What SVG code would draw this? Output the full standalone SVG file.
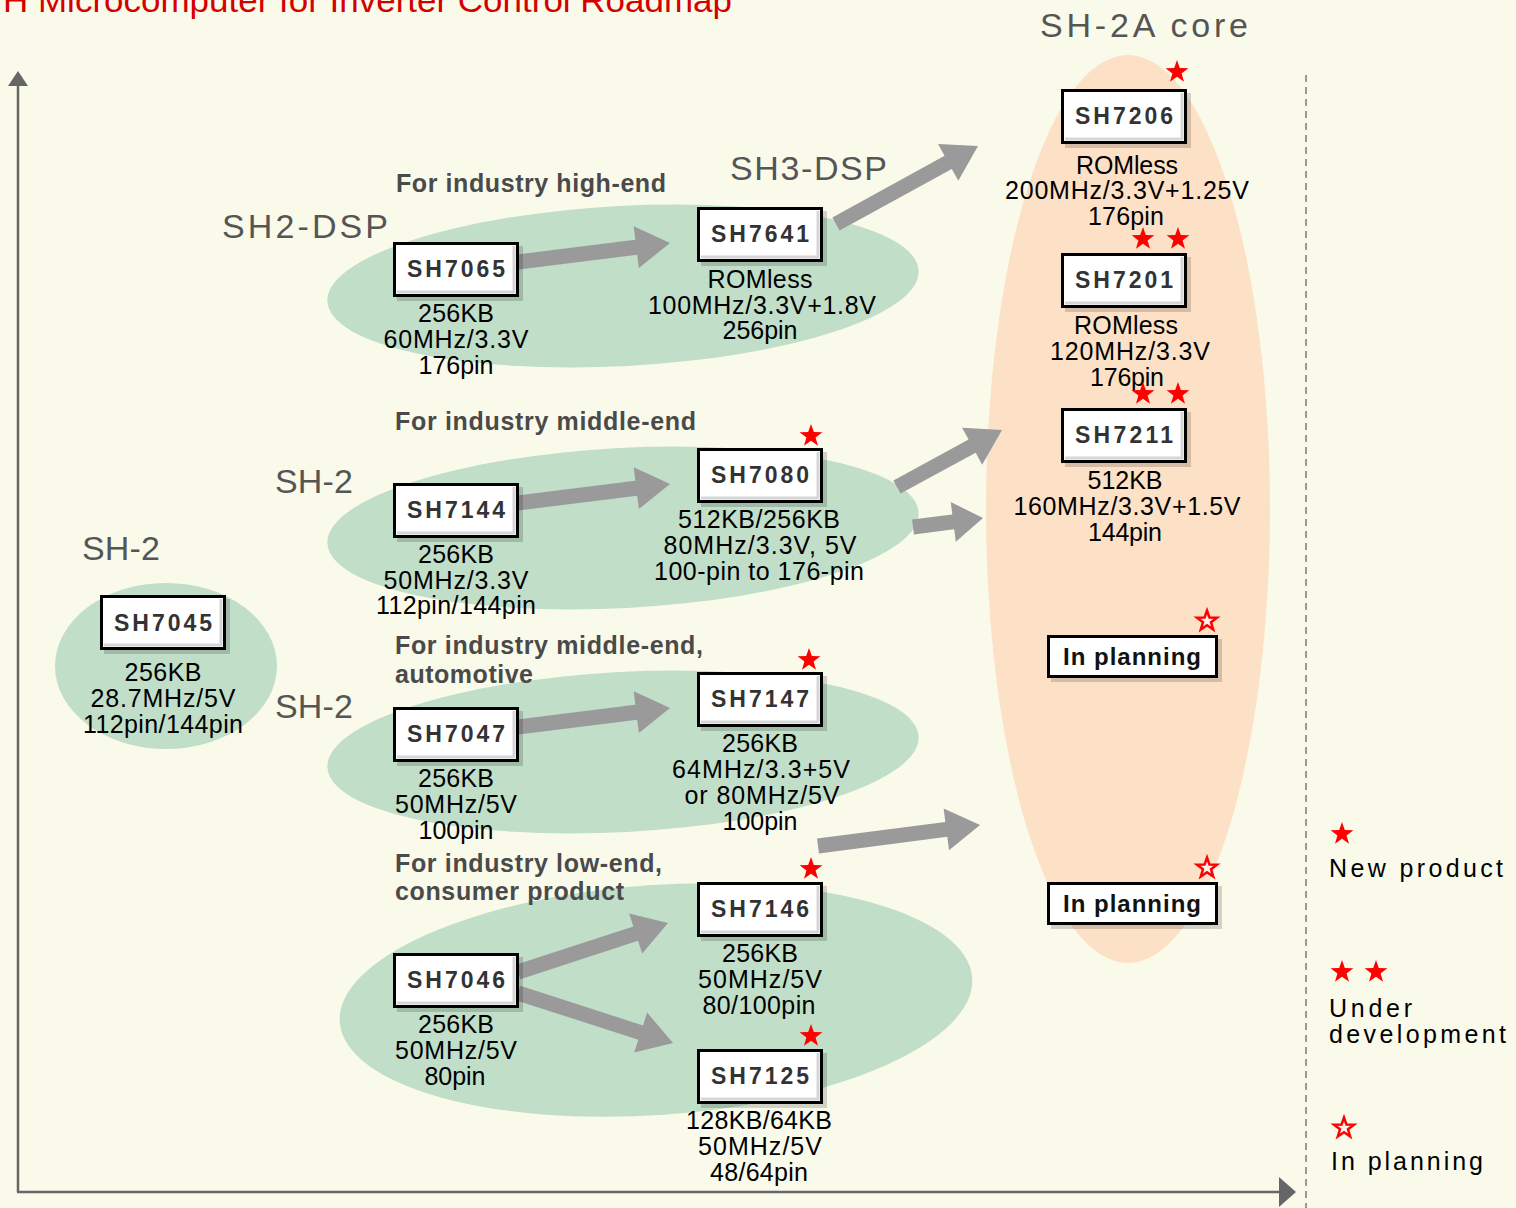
<svg xmlns="http://www.w3.org/2000/svg" width="1516" height="1208" viewBox="0 0 1516 1208">
<style>
.grn{fill:#C0DEC8}
.peach{fill:#FDE1C6}
.axis{stroke:#666;stroke-width:2.5;fill:none}
.axh{fill:#666}
.arr{fill:#9A9A9A}
.box{fill:#fff;stroke:#000;stroke-width:3}
.shd{fill:#000;opacity:.16}
.inn{fill:none;stroke:#d6d6d6;stroke-width:3}
text{font-family:"Liberation Sans",Arial,sans-serif}
.lbl{font-weight:bold;font-size:23px;fill:#333;text-anchor:middle}
.pl{font-weight:bold;font-size:24px;fill:#111;text-anchor:middle}
.dat{font-size:25px;fill:#000;text-anchor:middle}
.ser{font-size:34px;fill:#555}
.cat{font-weight:bold;font-size:25px;fill:#4a4a4a}
.leg{font-size:25px;fill:#000}
.title{font-size:34px;fill:#D40000}
.star{fill:#FF0000}
.hstar{fill:#FFF0F0;stroke:#FF0000;stroke-width:2.5}
</style>
<defs>
<polygon id="st" points="0,-12 2.82,-3.88 11.41,-3.71 4.57,1.48 7.05,9.71 0,4.8 -7.05,9.71 -4.57,1.48 -11.41,-3.71 -2.82,-3.88"/>
<polygon id="hs" points="0,-10.5 2.47,-3.4 10,-3.25 4,1.3 6.17,8.5 0,4.2 -6.17,8.5 -4,1.3 -10,-3.25 -2.47,-3.4"/>
</defs>
<rect width="1516" height="1208" fill="#FAFAEB"/>
<text class="title" x="3" y="12" textLength="729" lengthAdjust="spacingAndGlyphs">H Microcomputer for Inverter Control Roadmap</text>

<g id="backgrounds">
<ellipse class="peach" cx="1128" cy="509" rx="142" ry="454"/>
<ellipse class="grn" cx="623" cy="286" rx="296" ry="80" transform="rotate(-3 623 286)"/>
<ellipse class="grn" cx="623" cy="528" rx="296" ry="80" transform="rotate(-3 623 528)"/>
<ellipse class="grn" cx="623" cy="752" rx="296" ry="80" transform="rotate(-3 623 752)"/>
<ellipse class="grn" cx="656" cy="1000" rx="317" ry="115" transform="rotate(-4 656 1000)"/>
<ellipse class="grn" cx="166" cy="666" rx="111" ry="83"/>
</g>

<g id="axes">
<line class="axis" x1="18" y1="84" x2="18" y2="1192"/>
<polygon class="axh" points="8,86 28,86 18,71"/>
<line class="axis" x1="17" y1="1192" x2="1282" y2="1192"/>
<polygon class="axh" points="1279,1177 1296,1192 1279,1207"/>
<line x1="1306" y1="75" x2="1306" y2="1208" stroke="#999" stroke-width="2" stroke-dasharray="7 5"/>
</g>

<g id="series-labels">
<text class="ser" x="1040" y="37" textLength="208" lengthAdjust="spacing">SH-2A core</text>
<text class="ser" x="730" y="180" textLength="157" lengthAdjust="spacing">SH3-DSP</text>
<text class="ser" x="222" y="238" textLength="166" lengthAdjust="spacing">SH2-DSP</text>
<text class="ser" x="275" y="493" textLength="78" lengthAdjust="spacing">SH-2</text>
<text class="ser" x="82" y="560" textLength="78" lengthAdjust="spacing">SH-2</text>
<text class="ser" x="275" y="718" textLength="78" lengthAdjust="spacing">SH-2</text>
<text class="cat" x="396" y="192" textLength="270" lengthAdjust="spacing">For industry high-end</text>
<text class="cat" x="395" y="430" textLength="301" lengthAdjust="spacing">For industry middle-end</text>
<text class="cat" x="395" y="654" textLength="308" lengthAdjust="spacing">For industry middle-end,</text>
<text class="cat" x="395" y="683" textLength="138" lengthAdjust="spacing">automotive</text>
<text class="cat" x="395" y="872" textLength="267" lengthAdjust="spacing">For industry low-end,</text>
<text class="cat" x="395" y="900" textLength="229" lengthAdjust="spacing">consumer product</text>
</g>

<g id="connectors">
<polygon class="arr" transform="translate(518,262) rotate(-7.13)" points="0,-7.5 119.2,-7.5 119.2,-21 153.2,0 119.2,21 119.2,7.5 0,7.5"/>
<polygon class="arr" transform="translate(836,224) rotate(-28.78)" points="0,-7.5 128,-7.5 128,-21 162,0 128,21 128,7.5 0,7.5"/>
<polygon class="arr" transform="translate(518,503) rotate(-7.13)" points="0,-7.5 119.2,-7.5 119.2,-21 153.2,0 119.2,21 119.2,7.5 0,7.5"/>
<polygon class="arr" transform="translate(897,487) rotate(-28.5)" points="0,-7.5 85.5,-7.5 85.5,-21 119.5,0 85.5,21 85.5,7.5 0,7.5"/>
<polygon class="arr" transform="translate(913,527) rotate(-7.3)" points="0,-7.5 40.6,-7.5 40.6,-20 70.6,0 40.6,20 40.6,7.5 0,7.5"/>
<polygon class="arr" transform="translate(518,727) rotate(-7.13)" points="0,-7.5 119.2,-7.5 119.2,-21 153.2,0 119.2,21 119.2,7.5 0,7.5"/>
<polygon class="arr" transform="translate(818,846) rotate(-7.39)" points="0,-7.5 129.4,-7.5 129.4,-21 163.4,0 129.4,21 129.4,7.5 0,7.5"/>
<polygon class="arr" transform="translate(518,972) rotate(-18.09)" points="0,-7.5 123.8,-7.5 123.8,-21 157.8,0 123.8,21 123.8,7.5 0,7.5"/>
<polygon class="arr" transform="translate(518,993) rotate(17.88)" points="0,-7.5 128.9,-7.5 128.9,-21 162.9,0 128.9,21 128.9,7.5 0,7.5"/>
</g>

<g id="SH7045">
<rect class="shd" x="104" y="599" width="126" height="55"/>
<rect class="box" x="101.5" y="596.5" width="123" height="52"/>
<polyline class="inn" points="104,645 221,645 221,599"/>
<text class="lbl" x="163" y="631" textLength="98" lengthAdjust="spacing">SH7045</text>
<text class="dat" x="163" y="681" textLength="77" lengthAdjust="spacing">256KB</text>
<text class="dat" x="163" y="707" textLength="145" lengthAdjust="spacing">28.7MHz/5V</text>
<text class="dat" x="163" y="733" textLength="160" lengthAdjust="spacing">112pin/144pin</text>
</g>

<g id="SH7065">
<rect class="shd" x="397" y="246" width="126" height="55"/>
<rect class="box" x="394.5" y="243.5" width="123" height="52"/>
<polyline class="inn" points="397,292 514,292 514,246"/>
<text class="lbl" x="456" y="277" textLength="98" lengthAdjust="spacing">SH7065</text>
<text class="dat" x="456" y="322" textLength="76" lengthAdjust="spacing">256KB</text>
<text class="dat" x="456" y="348" textLength="145" lengthAdjust="spacing">60MHz/3.3V</text>
<text class="dat" x="456" y="374" textLength="75" lengthAdjust="spacing">176pin</text>
</g>

<g id="SH7641">
<rect class="shd" x="701" y="211" width="126" height="55"/>
<rect class="box" x="698.5" y="208.5" width="123" height="52"/>
<polyline class="inn" points="701,257 818,257 818,211"/>
<text class="lbl" x="760" y="242" textLength="98" lengthAdjust="spacing">SH7641</text>
<text class="dat" x="760" y="288" textLength="105" lengthAdjust="spacing">ROMless</text>
<text class="dat" x="762" y="314" textLength="228" lengthAdjust="spacing">100MHz/3.3V+1.8V</text>
<text class="dat" x="760" y="339" textLength="75" lengthAdjust="spacing">256pin</text>
</g>

<g id="SH7144">
<rect class="shd" x="397" y="487" width="126" height="55"/>
<rect class="box" x="394.5" y="484.5" width="123" height="52"/>
<polyline class="inn" points="397,533 514,533 514,487"/>
<text class="lbl" x="456" y="518" textLength="98" lengthAdjust="spacing">SH7144</text>
<text class="dat" x="456" y="563" textLength="76" lengthAdjust="spacing">256KB</text>
<text class="dat" x="456" y="589" textLength="145" lengthAdjust="spacing">50MHz/3.3V</text>
<text class="dat" x="456" y="614" textLength="160" lengthAdjust="spacing">112pin/144pin</text>
</g>

<g id="SH7080">
<rect class="shd" x="701" y="452" width="126" height="55"/>
<rect class="box" x="698.5" y="449.5" width="123" height="52"/>
<polyline class="inn" points="701,498 818,498 818,452"/>
<text class="lbl" x="760" y="483" textLength="98" lengthAdjust="spacing">SH7080</text>
<text class="dat" x="759" y="528" textLength="162" lengthAdjust="spacing">512KB/256KB</text>
<text class="dat" x="760" y="554" textLength="193" lengthAdjust="spacing">80MHz/3.3V, 5V</text>
<text class="dat" x="759" y="580" textLength="210" lengthAdjust="spacing">100-pin to 176-pin</text>
<use href="#st" class="star" x="811" y="436"/>
</g>

<g id="SH7047">
<rect class="shd" x="397" y="711" width="126" height="55"/>
<rect class="box" x="394.5" y="708.5" width="123" height="52"/>
<polyline class="inn" points="397,757 514,757 514,711"/>
<text class="lbl" x="456" y="742" textLength="98" lengthAdjust="spacing">SH7047</text>
<text class="dat" x="456" y="787" textLength="76" lengthAdjust="spacing">256KB</text>
<text class="dat" x="456" y="813" textLength="122" lengthAdjust="spacing">50MHz/5V</text>
<text class="dat" x="456" y="839" textLength="75" lengthAdjust="spacing">100pin</text>
</g>

<g id="SH7147">
<rect class="shd" x="701" y="676" width="126" height="55"/>
<rect class="box" x="698.5" y="673.5" width="123" height="52"/>
<polyline class="inn" points="701,722 818,722 818,676"/>
<text class="lbl" x="760" y="707" textLength="98" lengthAdjust="spacing">SH7147</text>
<text class="dat" x="760" y="752" textLength="76" lengthAdjust="spacing">256KB</text>
<text class="dat" x="761" y="778" textLength="178" lengthAdjust="spacing">64MHz/3.3+5V</text>
<text class="dat" x="762" y="804" textLength="155" lengthAdjust="spacing">or 80MHz/5V</text>
<text class="dat" x="760" y="830" textLength="75" lengthAdjust="spacing">100pin</text>
<use href="#st" class="star" x="809" y="660"/>
</g>

<g id="SH7046">
<rect class="shd" x="397" y="957" width="126" height="55"/>
<rect class="box" x="394.5" y="954.5" width="123" height="52"/>
<polyline class="inn" points="397,1003 514,1003 514,957"/>
<text class="lbl" x="456" y="988" textLength="98" lengthAdjust="spacing">SH7046</text>
<text class="dat" x="456" y="1033" textLength="76" lengthAdjust="spacing">256KB</text>
<text class="dat" x="456" y="1059" textLength="122" lengthAdjust="spacing">50MHz/5V</text>
<text class="dat" x="455" y="1085" textLength="61" lengthAdjust="spacing">80pin</text>
</g>

<g id="SH7146">
<rect class="shd" x="701" y="886" width="126" height="55"/>
<rect class="box" x="698.5" y="883.5" width="123" height="52"/>
<polyline class="inn" points="701,932 818,932 818,886"/>
<text class="lbl" x="760" y="917" textLength="98" lengthAdjust="spacing">SH7146</text>
<text class="dat" x="760" y="962" textLength="76" lengthAdjust="spacing">256KB</text>
<text class="dat" x="760" y="988" textLength="124" lengthAdjust="spacing">50MHz/5V</text>
<text class="dat" x="759" y="1014" textLength="113" lengthAdjust="spacing">80/100pin</text>
<use href="#st" class="star" x="811" y="869"/>
</g>

<g id="SH7125">
<rect class="shd" x="701" y="1053" width="126" height="55"/>
<rect class="box" x="698.5" y="1050.5" width="123" height="52"/>
<polyline class="inn" points="701,1099 818,1099 818,1053"/>
<text class="lbl" x="760" y="1084" textLength="98" lengthAdjust="spacing">SH7125</text>
<text class="dat" x="759" y="1129" textLength="146" lengthAdjust="spacing">128KB/64KB</text>
<text class="dat" x="760" y="1155" textLength="124" lengthAdjust="spacing">50MHz/5V</text>
<text class="dat" x="759" y="1181" textLength="98" lengthAdjust="spacing">48/64pin</text>
<use href="#st" class="star" x="811" y="1036"/>
</g>

<g id="SH7206">
<rect class="shd" x="1065" y="93" width="126" height="55"/>
<rect class="box" x="1062.5" y="90.5" width="123" height="52"/>
<polyline class="inn" points="1065,139 1182,139 1182,93"/>
<text class="lbl" x="1124" y="124" textLength="98" lengthAdjust="spacing">SH7206</text>
<text class="dat" x="1127" y="174" textLength="102" lengthAdjust="spacing">ROMless</text>
<text class="dat" x="1127" y="199" textLength="244" lengthAdjust="spacing">200MHz/3.3V+1.25V</text>
<text class="dat" x="1126" y="225" textLength="76" lengthAdjust="spacing">176pin</text>
<use href="#st" class="star" x="1177" y="72"/>
</g>

<g id="SH7201">
<rect class="shd" x="1065" y="257" width="126" height="55"/>
<rect class="box" x="1062.5" y="254.5" width="123" height="52"/>
<polyline class="inn" points="1065,303 1182,303 1182,257"/>
<text class="lbl" x="1124" y="288" textLength="98" lengthAdjust="spacing">SH7201</text>
<text class="dat" x="1126" y="334" textLength="104" lengthAdjust="spacing">ROMless</text>
<text class="dat" x="1130" y="360" textLength="160" lengthAdjust="spacing">120MHz/3.3V</text>
<text class="dat" x="1127" y="386" textLength="74" lengthAdjust="spacing">176pin</text>
<use href="#st" class="star" x="1143" y="239"/>
<use href="#st" class="star" x="1178" y="239"/>
</g>

<g id="SH7211">
<rect class="shd" x="1065" y="412" width="126" height="55"/>
<rect class="box" x="1062.5" y="409.5" width="123" height="52"/>
<polyline class="inn" points="1065,458 1182,458 1182,412"/>
<text class="lbl" x="1124" y="443" textLength="98" lengthAdjust="spacing">SH7211</text>
<text class="dat" x="1125" y="489" textLength="75" lengthAdjust="spacing">512KB</text>
<text class="dat" x="1127" y="515" textLength="227" lengthAdjust="spacing">160MHz/3.3V+1.5V</text>
<text class="dat" x="1125" y="541" textLength="74" lengthAdjust="spacing">144pin</text>
<use href="#st" class="star" x="1143" y="394"/>
<use href="#st" class="star" x="1178" y="394"/>
</g>

<g id="planning1">
<rect class="shd" x="1051" y="639" width="171" height="43"/>
<rect class="box" x="1048.5" y="636.5" width="168" height="40"/>
<text class="pl" x="1132" y="665" textLength="138" lengthAdjust="spacing">In planning</text>
<use href="#hs" class="hstar" x="1207" y="621"/>
</g>

<g id="planning2">
<rect class="shd" x="1051" y="886" width="171" height="43"/>
<rect class="box" x="1048.5" y="883.5" width="168" height="40"/>
<text class="pl" x="1132" y="912" textLength="138" lengthAdjust="spacing">In planning</text>
<use href="#hs" class="hstar" x="1207" y="868"/>
</g>

<g id="legend">
<use href="#st" class="star" x="1342" y="834"/>
<text class="leg" x="1329" y="877" textLength="174" lengthAdjust="spacing">New product</text>
<use href="#st" class="star" x="1342" y="972"/>
<use href="#st" class="star" x="1376" y="972"/>
<text class="leg" x="1329" y="1017" textLength="83" lengthAdjust="spacing">Under</text>
<text class="leg" x="1329" y="1043" textLength="177" lengthAdjust="spacing">development</text>
<use href="#hs" class="hstar" x="1344" y="1128"/>
<text class="leg" x="1331" y="1170" textLength="152" lengthAdjust="spacing">In planning</text>
</g>
</svg>
